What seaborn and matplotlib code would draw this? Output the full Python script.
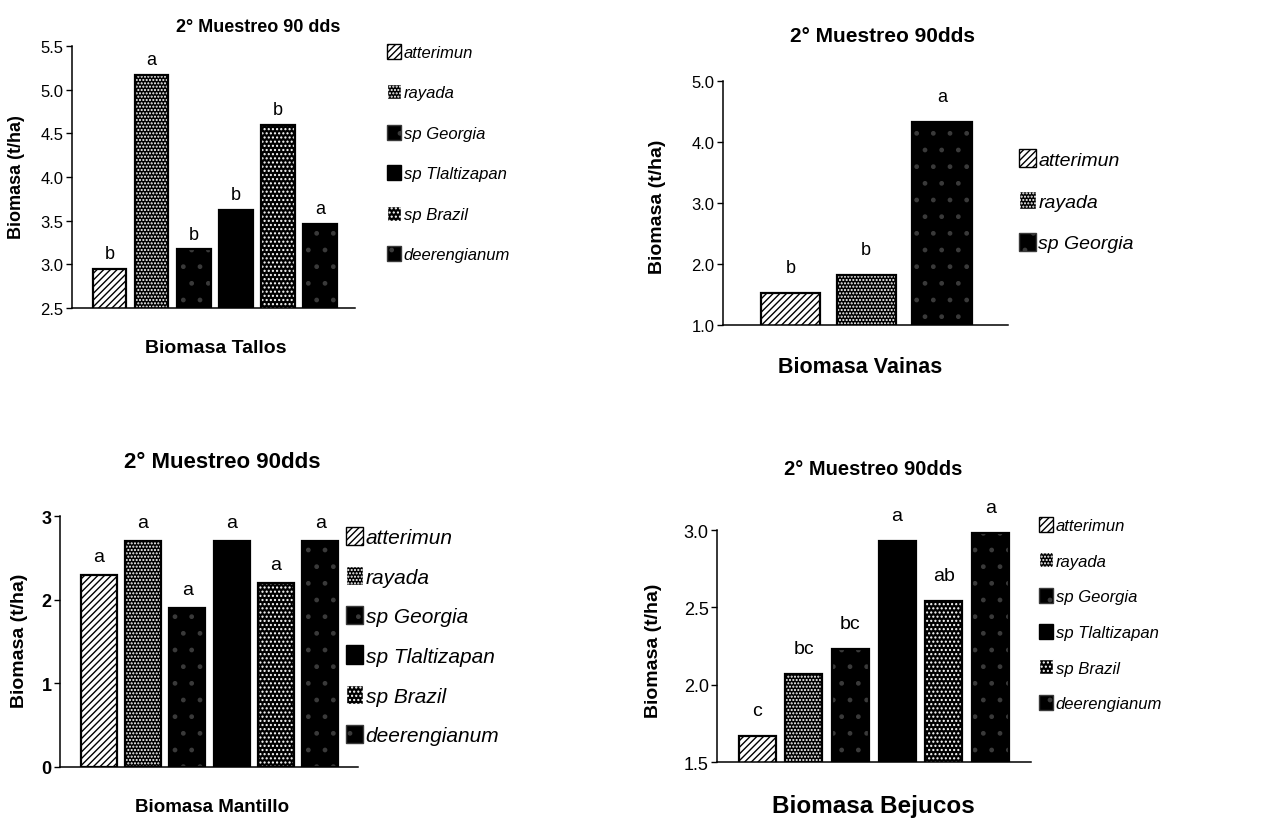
import matplotlib
matplotlib.use("Agg")
import matplotlib.pyplot as plt
import seaborn as sns
import pandas as pd
from matplotlib.patches import Rectangle, Patch
from matplotlib.ticker import FormatStrFormatter

# ---- data -------------------------------------------------------------
species6 = ["atterimun", "rayada", "sp Georgia", "sp Tlaltizapan", "sp Brazil", "deerengianum"]
species3 = ["atterimun", "rayada", "sp Georgia"]

tallos = [2.95, 5.17, 3.17, 3.62, 4.60, 3.46]
tallos_letters = ["b", "a", "b", "b", "b", "a"]

vainas = [1.53, 1.82, 4.33]
vainas_letters = ["b", "b", "a"]

mantillo = [2.30, 2.70, 1.90, 2.70, 2.20, 2.70]
mantillo_letters = ["a", "a", "a", "a", "a", "a"]

bejucos = [1.67, 2.07, 2.23, 2.93, 2.54, 2.98]
bejucos_letters = ["c", "bc", "bc", "a", "ab", "a"]

titles = ["2° Muestreo 90 dds", "2° Muestreo 90dds", "2° Muestreo 90dds", "2° Muestreo 90dds"]
xlabels = ["Biomasa Tallos", "Biomasa Vainas", "Biomasa Mantillo", "Biomasa Bejucos"]
ylabel = "Biomasa (t/ha)"

# ---- fill style per species: face colour, hatch, hatch colour ---------
fills = {
    "atterimun": ("white", "/////", "black"),
    "rayada": ("black", ".....", "white"),
    "sp Georgia": ("black", ".", "#3a3a3a"),
    "sp Tlaltizapan": ("black", "", "black"),
    "sp Brazil": ("black", "....", "white"),
    "deerengianum": ("black", ".", "#3a3a3a"),
}

sns.set_style("white")
plt.rcParams["font.family"] = ["Liberation Sans", "DejaVu Sans"]
plt.rcParams["text.color"] = "black"
plt.rcParams["axes.labelcolor"] = "black"
plt.rcParams["ytick.color"] = "black"
plt.rcParams["xtick.color"] = "black"
plt.rcParams["hatch.linewidth"] = 1.0

W, H = 1269, 820
fig = plt.figure(figsize=(W / 100, H / 100), dpi=100)


def fx(x):
    return x / W


def fy(y):
    return 1 - y / H


def panel(box, species, values, letters, ylim, yticks, fmt, xlim, bar_w,
          tick_fs, tick_weight, letter_fs, letter_off,
          title, title_xy, title_fs,
          xlabel, xlabel_xy, xlabel_fs,
          ylabel_xy, ylabel_fs,
          leg_x, leg_y0, leg_pitch, leg_fs, leg_hl, leg_hh):
    left, top, right, bottom = box
    ax = fig.add_axes([fx(left), fy(bottom), (right - left) / W, (bottom - top) / H])
    df = pd.DataFrame({"especie": species, "biomasa": values})
    sns.barplot(data=df, x="especie", y="biomasa", hue="especie", order=species,
                hue_order=species, palette=["black"] * len(species), width=bar_w,
                legend=False, ax=ax, saturation=1)
    for p, sp in zip(ax.patches, species):
        face, hatch, hc = fills[sp]
        p.set_facecolor(face)
        p.set_hatch(hatch)
        p.set_edgecolor(hc)
        p.set_linewidth(0)
        ax.add_patch(Rectangle(p.get_xy(), p.get_width(), p.get_height(), fill=False,
                               edgecolor="black", linewidth=1.6, zorder=3))
    for i, (v, t) in enumerate(zip(values, letters)):
        ax.annotate(t, (i, v), xytext=(0, letter_off), textcoords="offset points",
                    ha="center", va="bottom", fontsize=letter_fs)
    ax.set_ylim(*ylim)
    ax.set_xlim(*xlim)
    ax.set_yticks(yticks)
    ax.yaxis.set_major_formatter(FormatStrFormatter(fmt))
    ax.set_xticks([])
    ax.set_xlabel("")
    ax.set_ylabel("")
    for s in ["top", "right"]:
        ax.spines[s].set_visible(False)
    for s in ["left", "bottom"]:
        ax.spines[s].set_color("black")
        ax.spines[s].set_linewidth(1.1)
    ax.tick_params(axis="y", direction="out", length=4, width=1, color="black",
                   labelsize=tick_fs, pad=2, left=True, labelcolor="black")
    for lab in ax.get_yticklabels():
        lab.set_fontweight(tick_weight)
    fig.text(fx(title_xy[0]), fy(title_xy[1]), title, ha="center", va="center",
             fontsize=title_fs, fontweight="bold")
    fig.text(fx(xlabel_xy[0]), fy(xlabel_xy[1]), xlabel, ha="center", va="center",
             fontsize=xlabel_fs, fontweight="bold")
    fig.text(fx(ylabel_xy[0]), fy(ylabel_xy[1]), ylabel, ha="center", va="center",
             rotation=90, fontsize=ylabel_fs, fontweight="bold")
    handles = [Patch(facecolor=fills[sp][0], hatch=fills[sp][1],
                     edgecolor="black" if fills[sp][0] == "white" else fills[sp][2])
               for sp in species]
    fs_px = leg_fs * 100 / 72
    row_h = 1.0 * fs_px
    fig.legend(handles, species, loc="upper left",
               bbox_to_anchor=(fx(leg_x), fy(leg_y0 - row_h / 2)),
               frameon=False, borderpad=0, borderaxespad=0,
               handlelength=leg_hl, handleheight=leg_hh, handletextpad=0.15,
               labelspacing=(leg_pitch - row_h) / fs_px,
               prop={"size": leg_fs, "style": "italic"})
    return ax


# Tallos
panel((72, 47, 355, 309), species6, tallos, tallos_letters,
      (2.5, 5.5), [2.5, 3.0, 3.5, 4.0, 4.5, 5.0, 5.5], "%.1f", (-0.89, 5.83), 0.8,
      12, "normal", 13, 5,
      titles[0], (258, 27), 13,
      xlabels[0], (216, 349), 14,
      (17, 177), 13,
      387, 53, 41, 12, 0.85, 1.0)

# Vainas
panel((723, 82, 1008, 326), species3, vainas, vainas_letters,
      (1.0, 5.0), [1.0, 2.0, 3.0, 4.0, 5.0], "%.1f", (-0.89, 2.87), 0.78,
      12, "normal", 13, 12,
      titles[1], (883, 37), 15,
      xlabels[1], (860, 368), 15.5,
      (658, 207), 14,
      1019, 160, 42, 14, 0.85, 1.0)

# Mantillo
panel((60, 517, 358, 768), species6, mantillo, mantillo_letters,
      (0, 3), [0, 1, 2, 3], "%d", (-0.87, 5.85), 0.81,
      13, "bold", 14, 7,
      titles[2], (222, 463), 16,
      xlabels[2], (212, 808), 13.5,
      (20, 641), 14,
      346, 538, 40, 15, 0.8, 1.0)

# Bejucos
panel((717, 531, 1031, 763), species6, bejucos, bejucos_letters,
      (1.5, 3.0), [1.5, 2.0, 2.5, 3.0], "%.1f", (-0.86, 5.87), 0.79,
      13, "normal", 14, 12,
      titles[3], (873, 470), 14.5,
      xlabels[3], (873, 807), 17.5,
      (653, 651), 14,
      1039, 526, 36.2, 12, 0.85, 1.0)

fig.savefig("out.png", dpi=100)
